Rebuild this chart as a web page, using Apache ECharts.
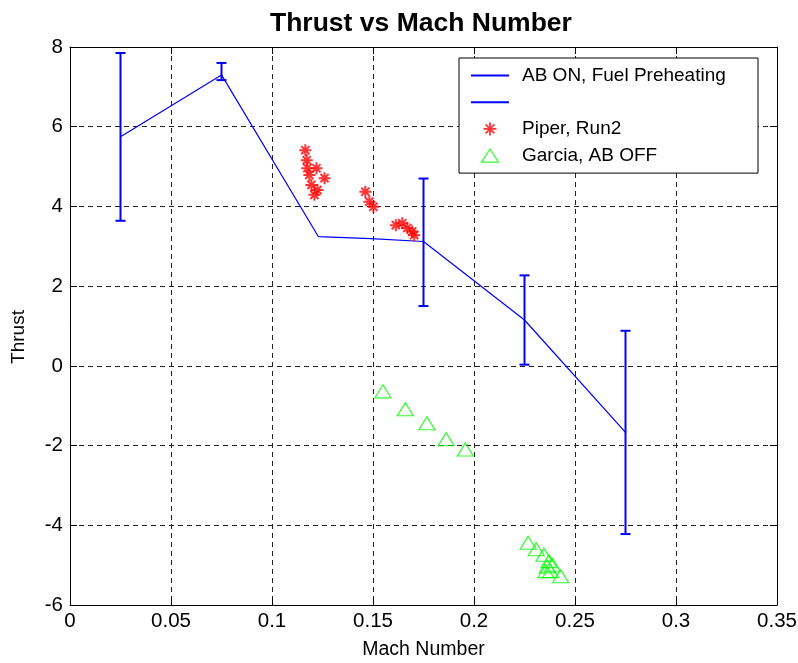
<!DOCTYPE html>
<html>
<head>
<meta charset="utf-8">
<title>Thrust vs Mach Number</title>
<script src="https://cdn.jsdelivr.net/npm/echarts@6/dist/echarts.min.js"></script>
<style>
  html, body { margin: 0; padding: 0; background: #fff; }
  #chart { width: 798px; height: 663px; }
</style>
</head>
<body>
<div id="chart"></div>
<script>
// AB ON, Fuel Preheating - mean line
const lineMach = [0.025, 0.075, 0.123, 0.149, 0.175, 0.225, 0.275];
const lineThrust = [5.75, 7.3, 3.24, 3.19, 3.12, 1.15, -1.67];

// error bars
const errMach = [0.025, 0.075, 0.175, 0.225, 0.275];
const errLow = [3.64, 7.17, 1.5, 0.03, -4.22];
const errHigh = [7.85, 7.6, 4.7, 2.27, 0.88];

// Piper, Run2
const piperMach = [0.1165, 0.1172, 0.1175, 0.122, 0.1185, 0.126, 0.1195, 0.1225, 0.121,
  0.1462, 0.1482, 0.1502, 0.1613, 0.1645, 0.167, 0.1694, 0.1704];
const piperThrust = [5.41, 5.16, 4.96, 4.96, 4.79, 4.71, 4.54, 4.41, 4.29,
  4.37, 4.12, 3.99, 3.53, 3.58, 3.46, 3.37, 3.28];

// Garcia, AB OFF
const garciaMach = [0.1549, 0.166, 0.1767, 0.1862, 0.1957,
  0.2268, 0.2308, 0.2346, 0.2371, 0.2363, 0.2388, 0.2355, 0.2379, 0.2429];
const garciaThrust = [-0.64, -1.09, -1.44, -1.84, -2.1,
  -4.44, -4.6, -4.74, -4.9, -5.03, -4.99, -5.15, -5.15, -5.28];

const xTicks = { min: 0, max: 0.35, interval: 0.05 };
const yTicks = { min: -6, max: 8, interval: 2 };

const FONT = 'Liberation Sans, Arial, sans-serif';
const BLUE = '#0000ff';
const STAR = 'path://M5,0V10M0,5H10M1.6,1.6L8.4,8.4M8.4,1.6L1.6,8.4';
const TRI = 'path://M8.5,0L17,13H0Z';

const chart = echarts.init(document.getElementById('chart'));

const zip = (xs, ys) => xs.map((x, i) => [x, ys[i]]);

function renderErr(params, api) {
  const x = api.value(0);
  const lo = api.coord([x, api.value(1)]);
  const hi = api.coord([x, api.value(2)]);
  const w = 5;
  const style = { stroke: BLUE, lineWidth: 2 };
  return {
    type: 'group',
    children: [
      { type: 'line', shape: { x1: lo[0], y1: lo[1], x2: hi[0], y2: hi[1] }, style },
      { type: 'line', shape: { x1: lo[0] - w, y1: lo[1], x2: lo[0] + w, y2: lo[1] }, style },
      { type: 'line', shape: { x1: hi[0] - w, y1: hi[1], x2: hi[0] + w, y2: hi[1] }, style }
    ]
  };
}

const axisCommon = {
  axisLine: { show: true, onZero: false, lineStyle: { color: '#000', width: 1 } },
  axisTick: { show: true, inside: true, length: 7, lineStyle: { color: '#000' } }
};

// hide the dot that line series put in their legend icon
const noDot = { color: 'transparent', borderWidth: 0 };

const option = {
  backgroundColor: '#fff',
  animation: false,
  title: {
    text: 'Thrust vs Mach Number',
    left: 270,
    top: 10,
    padding: 0,
    textStyle: { fontFamily: FONT, fontSize: 26.5, fontWeight: 'bold', color: '#000' }
  },
  legend: {
    left: 459,
    top: 58,
    orient: 'vertical',
    selectedMode: false,
    backgroundColor: '#fff',
    borderColor: '#000',
    borderWidth: 1,
    borderRadius: 0,
    padding: [8, 9, 8, 11],
    itemWidth: 38,
    itemHeight: 13,
    itemGap: 7.7,
    textStyle: { fontFamily: FONT, fontSize: 19, color: '#000', lineHeight: 18, width: 227, padding: [0, 0, 0, 8] },
    data: [
      { name: 'AB ON, Fuel Preheating', itemStyle: noDot },
      { name: '\u00a0', itemStyle: noDot },
      { name: 'Piper, Run2', icon: STAR, itemStyle: { color: 'transparent', borderColor: '#ff0000', borderWidth: 1.8 } },
      { name: 'Garcia, AB OFF', icon: TRI, itemStyle: { color: 'transparent', borderColor: '#00ff00', borderWidth: 1.2 } }
    ]
  },
  grid: { left: 70, right: 21, top: 47, bottom: 58, outerBoundsMode: 'none' },
  xAxis: [
    Object.assign({}, axisCommon, {
      type: 'value',
      min: xTicks.min, max: xTicks.max, interval: xTicks.interval,
      name: 'Mach Number',
      nameLocation: 'middle',
      nameGap: 35,
      nameTextStyle: { fontFamily: FONT, fontSize: 19.5, color: '#000' },
      axisLabel: {
        margin: 6, fontFamily: FONT, fontSize: 20.5, color: '#000',
        formatter: v => String(+v.toFixed(2))
      },
      splitLine: { show: true, lineStyle: { color: '#222', type: [5, 4], width: 1 } }
    }),
    Object.assign({}, axisCommon, {
      type: 'value', position: 'top',
      min: xTicks.min, max: xTicks.max, interval: xTicks.interval,
      axisLabel: { show: false },
      splitLine: { show: false }
    })
  ],
  yAxis: [
    Object.assign({}, axisCommon, {
      type: 'value',
      min: yTicks.min, max: yTicks.max, interval: yTicks.interval,
      name: 'Thrust',
      nameLocation: 'middle',
      nameGap: 42,
      nameTextStyle: { fontFamily: FONT, fontSize: 19, color: '#000', padding: [0, 22, 0, 0] },
      axisLabel: { margin: 7, fontFamily: FONT, fontSize: 20.5, color: '#000' },
      splitLine: { show: true, lineStyle: { color: '#222', type: [5, 4], width: 1 } }
    }),
    Object.assign({}, axisCommon, {
      type: 'value', position: 'right',
      min: yTicks.min, max: yTicks.max, interval: yTicks.interval,
      axisLabel: { show: false },
      splitLine: { show: false }
    })
  ],
  series: [
    {
      name: 'AB ON, Fuel Preheating',
      type: 'line',
      data: zip(lineMach, lineThrust),
      symbol: 'none',
      color: BLUE,
      lineStyle: { color: BLUE, width: 1.2 },
      z: 3
    },
    {
      name: '\u00a0',
      type: 'line',
      data: [],
      symbol: 'none',
      color: BLUE,
      lineStyle: { color: BLUE, width: 1.2 }
    },
    {
      name: 'errorbars',
      type: 'custom',
      renderItem: renderErr,
      data: errMach.map((x, i) => [x, errLow[i], errHigh[i]]),
      encode: { x: 0, y: [1, 2] },
      z: 4
    },
    {
      name: 'Piper, Run2',
      type: 'scatter',
      data: zip(piperMach, piperThrust),
      symbol: STAR,
      symbolSize: 12,
      itemStyle: { color: 'transparent', borderColor: '#ff0000', borderWidth: 2 },
      z: 5
    },
    {
      name: 'Garcia, AB OFF',
      type: 'scatter',
      data: zip(garciaMach, garciaThrust),
      symbol: TRI,
      symbolSize: [16, 13],
      itemStyle: { color: 'transparent', borderColor: '#00ff00', borderWidth: 1.2 },
      z: 5
    }
  ]
};

chart.setOption(option);
</script>
</body>
</html>
